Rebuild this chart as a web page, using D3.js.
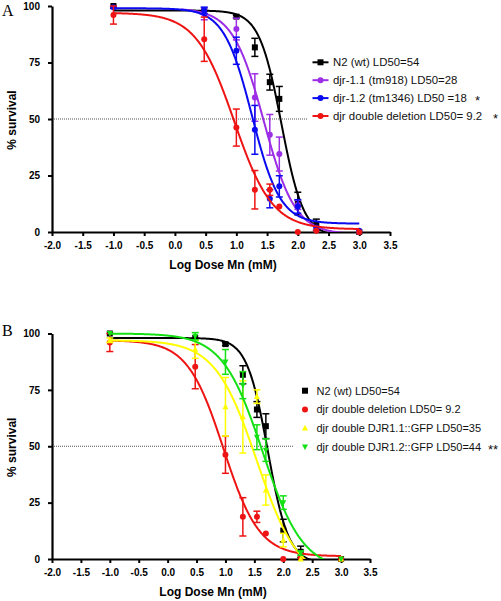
<!DOCTYPE html>
<html><head><meta charset="utf-8">
<script src="https://cdn.jsdelivr.net/npm/d3@7"></script>
<style>body{margin:0;background:#fff}</style>
</head><body>
<svg id="c" width="501" height="601"></svg>
<script>
// ---------- data ----------
const dosesMM = [0.1, 3, 10, 20, 35, 50, 100, 200, 1000];
const xTickValues = [-2.0, -1.5, -1.0, -0.5, 0.0, 0.5, 1.0, 1.5, 2.0, 2.5, 3.0, 3.5];
const xTickLabels = ["-2.0","-1.5","-1.0","-0.5","0.0","0.5","1.0","1.5","2.0","2.5","3.0","3.5"];
const yTickValues = [0, 25, 50, 75, 100];
const yTickLabels = ["0","25","50","75","100"];

// % survival means and SEM per dose
const n2Mean      = [100, 98, 95.3, 81.7, 66.3, 58.9, 12.6, 3.2, 0];
const n2Err       = [0, 0, 0.6, 4, 3.5, 5.5, 5, 2.5, 0];
const djr11Mean   = [null, 96.5, 89.8, 59.5, 43, 34.5, 12, 1, 0];
const djr11Err    = [null, 2.6, 4.8, 10.5, 9, 7.5, 2, 0, 0];
const djr12Mean   = [99.4, 98, 80.2, 45.2, 14.7, 20.2, 11.3, 2, 0.5];
const djr12Err    = [0.5, 1.5, 6, 10.8, 4, 4.7, 3, 0, 0];
const doubleMean  = [96, 85.3, 46.2, 18.7, 18.7, 11.3, 0, 0.5, 0];
const doubleErr   = [4, 9.8, 8.2, 8.5, 2.5, 0, 0, 0, 0];
const gfp11Mean   = [97, 93, 67.5, 63, 72, 30.6, 8.4, 0, 0];
const gfp11Err    = [1, 4, 13, 16, 3, 6.7, 3, 0, 0];
const gfp12Mean   = [100, 98.8, 87.4, 77.1, 54, 48.3, 25, 2.6, 0];
const gfp12Err    = [0, 1.6, 5.5, 6, 5.5, 5, 3, 1, 0];

// fitted dose-response parameters (LD50 in mM)
const fitLD50A   = [54, 28, 18, 9.2];
const fitHillA   = [2.4, 1.7, 1.9, 1.4];
const fitTopA    = [98, 99, 99, 97];
const fitBottomA = [-2, -1, 3.7, 1.2];
const fitStartA  = [-1, 0.1, -1, -1];

const fitLD50B   = [54, 9.2, 35, 44];
const fitHillB   = [2.4, 1.4, 1.2, 1.25];
const fitTopB    = [98, 97, 97, 100];
const fitBottomB = [-2, 1.2, -10, -5];
const fitStartB  = [-1, -1, -1, -1];

const legendA = ["N2 (wt) LD50=54", "djr-1.1 (tm918) LD50=28", "djr-1.2 (tm1346) LD50 =18", "djr double deletion LD50= 9.2"];
const starsA  = ["", "", "*", "*"];
const legendB = ["N2 (wt) LD50=54", "djr double deletion LD50= 9.2", "djr double DJR1.1::GFP LD50=35", "djr double DJR1.2::GFP LD50=44"];
const starsB  = ["", "", "", "**"];

const xTitle = "Log Dose Mn (mM)";
const yTitle = "% survival";

// ---------- drawing ----------
const svg = d3.select("#c");
const FONT = "'Liberation Sans', Arial, Helvetica, sans-serif";
const logDoses = dosesMM.map(d => Math.log10(d));

function logistic(xv, ld50, hill, top, bottom) {
  return bottom + (top - bottom) / (1 + Math.pow(10, (xv - Math.log10(ld50)) * hill));
}

function marker(g, shape, cx, cy, color, s) {
  if (shape === "square") {
    g.append("rect").attr("x", cx - s).attr("y", cy - s).attr("width", 2*s).attr("height", 2*s).attr("fill", color);
  } else if (shape === "circle") {
    g.append("circle").attr("cx", cx).attr("cy", cy).attr("r", s).attr("fill", color);
  } else if (shape === "tri-up") {
    g.append("path").attr("d", `M${cx},${cy-s*1.1}L${cx+s},${cy+s*0.8}L${cx-s},${cy+s*0.8}Z`).attr("fill", color);
  } else if (shape === "tri-down") {
    g.append("path").attr("d", `M${cx},${cy+s*1.1}L${cx+s},${cy-s*0.8}L${cx-s},${cy-s*0.8}Z`).attr("fill", color);
  }
}

function panel(cfg) {
  const g = svg.append("g");
  const x = d3.scaleLinear().domain([-2, 3.5]).range([cfg.x0, cfg.x1]);
  const y = d3.scaleLinear().domain([0, 100]).range([cfg.y0, cfg.y1]);

  const clipId = "clip" + cfg.id;
  svg.append("clipPath").attr("id", clipId).append("rect")
    .attr("x", cfg.x0).attr("y", cfg.y1 - 20).attr("width", cfg.x1 - cfg.x0 + 10).attr("height", cfg.y0 - cfg.y1 + 20);

  // reference line at 50%
  g.append("line").attr("x1", x(-2)).attr("x2", cfg.dotEnd).attr("y1", y(50)).attr("y2", y(50))
    .attr("stroke", "#555").attr("stroke-width", 1).attr("stroke-dasharray", "1,1");

  // axes
  const xa = d3.axisBottom(x).tickValues(xTickValues).tickFormat((d, i) => xTickLabels[i])
    .tickSize(4).tickSizeOuter(0).tickPadding(6);
  const ya = d3.axisLeft(y).tickValues(yTickValues).tickFormat((d, i) => yTickLabels[i])
    .tickSize(4).tickSizeOuter(0).tickPadding(8);
  const gx = g.append("g").attr("transform", `translate(0,${cfg.y0})`).call(xa);
  const gy = g.append("g").attr("transform", `translate(${cfg.x0},0)`).call(ya);
  [gx, gy].forEach(a => {
    a.selectAll("path.domain").attr("stroke", "#000").attr("stroke-width", 2.2);
    a.selectAll(".tick line").attr("stroke", "#000").attr("stroke-width", 2);
    a.selectAll(".tick text").attr("font-family", FONT).attr("font-size", 10).attr("font-weight", "bold").attr("fill", "#000");
  });

  // titles
  g.append("text").attr("x", (cfg.x0 + cfg.x1) / 2 + 2).attr("y", cfg.xTitleY).attr("text-anchor", "middle")
    .attr("font-family", FONT).attr("font-size", 12).attr("font-weight", "bold").text(xTitle);
  g.append("text").attr("transform", `translate(16,${(cfg.y0 + cfg.y1) / 2 + 1}) rotate(-90)`).attr("text-anchor", "middle")
    .attr("font-family", FONT).attr("font-size", 12).attr("font-weight", "bold").text(yTitle);
  g.append("text").attr("x", 2).attr("y", cfg.letterY).attr("font-family", "'Liberation Serif', 'Times New Roman', serif")
    .attr("font-size", 16).text(cfg.letter);

  // series
  cfg.series.forEach((s, i) => {
    const sg = g.append("g");
    // fitted curve
    const pts = d3.range(cfg.fitStart[i], 3.0001, 0.01).map(xv => [xv, logistic(xv, cfg.ld50[i], cfg.hill[i], cfg.top[i], cfg.bottom[i])]);
    sg.append("path").attr("clip-path", `url(#${clipId})`)
      .attr("d", d3.line().x(d => x(d[0])).y(d => y(d[1]))(pts))
      .attr("fill", "none").attr("stroke", s.color).attr("stroke-width", 2);
    // error bars + points
    s.mean.forEach((m, j) => {
      if (m === null) return;
      const e = s.err[j];
      const cx = x(logDoses[j]);
      if (e > 0) {
        sg.append("line").attr("x1", cx).attr("x2", cx).attr("y1", y(m - e)).attr("y2", y(m + e)).attr("stroke", s.color).attr("stroke-width", 1.5);
        [m - e, m + e].forEach(v => sg.append("line").attr("x1", cx - 3.5).attr("x2", cx + 3.5).attr("y1", y(v)).attr("y2", y(v)).attr("stroke", s.color).attr("stroke-width", 1.5));
      }
      marker(sg, s.shape, cx, y(m), s.color, cfg.mSize);
    });
  });

  // legend
  cfg.series.forEach((s, i) => {
    const cy = cfg.legY + i * cfg.legStep;
    if (cfg.legLine) {
      g.append("line").attr("x1", cfg.legX - 8).attr("x2", cfg.legX + 8).attr("y1", cy).attr("y2", cy).attr("stroke", s.color).attr("stroke-width", 2);
    }
    marker(g, s.shape, cfg.legX, cy, s.color, cfg.mSize);
    g.append("text").attr("x", cfg.legTextX).attr("y", cy + cfg.legFont * 0.36).attr("font-family", FONT)
      .attr("font-size", cfg.legFont).attr("fill", "#111").text(cfg.legend[i]);
    if (cfg.stars[i]) {
      g.append("text").attr("x", cfg.starX[i]).attr("y", cy + 7).attr("font-family", FONT)
        .attr("font-size", 13).attr("fill", "#111").text(cfg.stars[i]);
    }
  });
}

const BLACK = "#000000", PURPLE = "#9c2ee6", BLUE = "#0a0af0", RED = "#ee1414", YELLOW = "#ffff00", GREEN = "#14e014";

panel({
  id: "A", letter: "A", letterY: 16,
  x0: 52, x1: 390, y0: 232, y1: 6, dotEnd: 307, xTitleY: 269, mSize: 3,
  ld50: fitLD50A, hill: fitHillA, top: fitTopA, bottom: fitBottomA, fitStart: fitStartA,
  series: [
    {mean: n2Mean, err: n2Err, color: BLACK, shape: "square"},
    {mean: djr11Mean, err: djr11Err, color: PURPLE, shape: "circle"},
    {mean: djr12Mean, err: djr12Err, color: BLUE, shape: "circle"},
    {mean: doubleMean, err: doubleErr, color: RED, shape: "circle"}
  ],
  legend: legendA, stars: starsA, starX: [0, 0, 475, 493],
  legX: 320.5, legTextX: 333, legY: 62.3, legStep: 17.9, legFont: 11.4, legLine: true
});

panel({
  id: "B", letter: "B", letterY: 336,
  x0: 52, x1: 370, y0: 559, y1: 333.5, dotEnd: 293, xTitleY: 596, mSize: 3,
  ld50: fitLD50B, hill: fitHillB, top: fitTopB, bottom: fitBottomB, fitStart: fitStartB,
  series: [
    {mean: n2Mean, err: n2Err, color: BLACK, shape: "square"},
    {mean: doubleMean, err: doubleErr, color: RED, shape: "circle"},
    {mean: gfp11Mean, err: gfp11Err, color: YELLOW, shape: "tri-up"},
    {mean: gfp12Mean, err: gfp12Err, color: GREEN, shape: "tri-down"}
  ],
  legend: legendB, stars: starsB, starX: [0, 0, 0, 488],
  legX: 305, legTextX: 316.5, legY: 390.7, legStep: 18.7, legFont: 11, legLine: false
});
</script>
</body></html>
